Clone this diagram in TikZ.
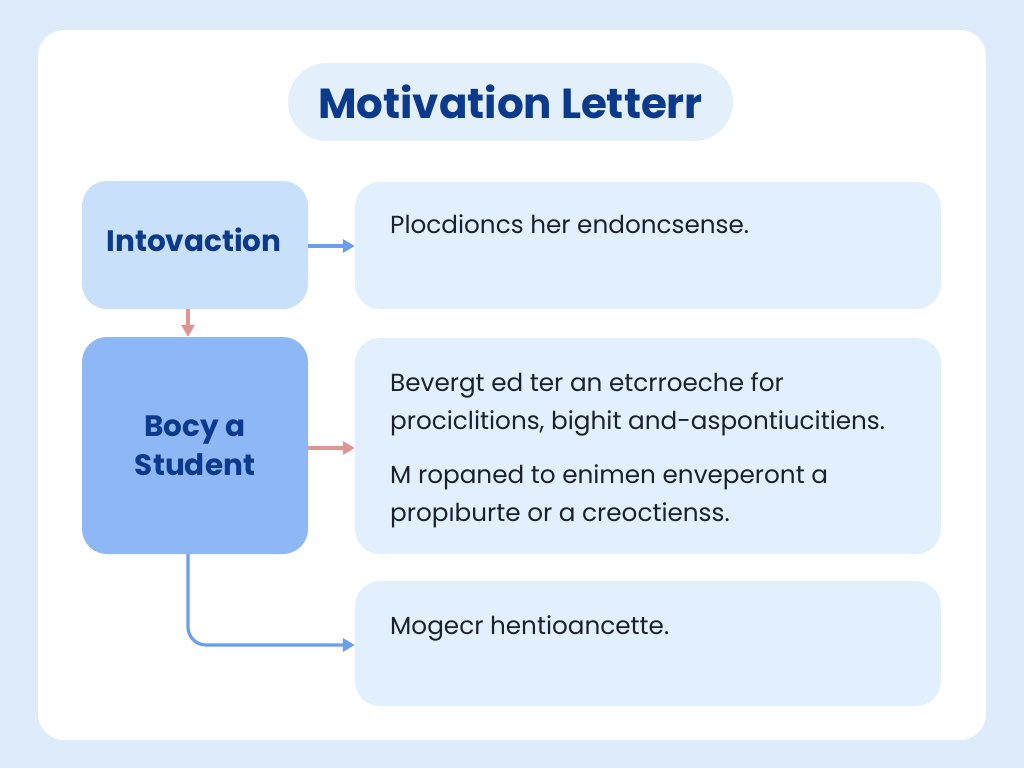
\documentclass[tikz,border=0pt]{standalone}
\usepackage{fontspec}
\setmainfont{Poppins}
\usepackage{xcolor}
\usetikzlibrary{arrows.meta, positioning}
\definecolor{pagebg}{HTML}{DDEBFB}
\definecolor{pillbg}{HTML}{E3F0FC}
\definecolor{titleblue}{HTML}{0B3A8C}
\definecolor{introfill}{HTML}{C9E0FB}
\definecolor{studentfill}{HTML}{8DB8F5}
\definecolor{notefill}{HTML}{E2F0FD}
\definecolor{bodytext}{HTML}{1A2030}
\definecolor{arrowblue}{HTML}{6A9FEB}
\definecolor{arrowpink}{HTML}{E09494}

\begin{document}
\begin{tikzpicture}[
        x=1pt, y=-1pt,
        % Define styles for the boxes
        stage_box/.style={rounded corners=25pt, minimum width=226pt, align=center,
            font=\bfseries\fontsize{29.5}{39}\selectfont, text=titleblue},
        note_box/.style={fill=notefill, rounded corners=25pt, minimum width=586pt},
        note_text/.style={anchor=north west, align=left, text=bodytext,
            font=\fontsize{24.7}{38}\selectfont, inner sep=0pt},
        flow_blue/.style={draw=arrowblue, line width=3.2pt, -{Triangle[length=12pt, width=13pt]}},
        flow_pink/.style={draw=arrowpink, line width=3.2pt, -{Triangle[length=12pt, width=13pt]}}
    ]
        % --- Background and white panel ---
        \fill[pagebg] (0,0) rectangle (1024,768);
        \useasboundingbox (0,0) rectangle (1024,768);
        \fill[white, rounded corners=26pt] (38,30) rectangle (986,740);

        % --- Title pill ---
        \node (title) [fill=pillbg, rounded corners=39pt, minimum width=445pt, minimum height=78pt,
            font=\bfseries\fontsize{42}{48}\selectfont, text=titleblue] at (510.5,102) {Motivation Letterr};

        % --- Left stage boxes ---
        \node (intro)   [stage_box, fill=introfill, minimum height=128pt] at (195,245) {};
        \node at (194,240) [font=\bfseries\fontsize{29.5}{39}\selectfont, text=titleblue] {Intovaction};
        \node (student) [stage_box, fill=studentfill, minimum height=217pt] at (195,445.5) {Bocy a\\Student};

        % --- Right note boxes ---
        \node (note_a) [note_box, minimum height=127pt] at (648,245.5) {};
        \node (note_b) [note_box, minimum height=216pt] at (648,446) {};
        \node (note_c) [note_box, minimum height=125pt] at (648,643.5) {};

        \node[note_text] at (390,215) {Plocdioncs her endoncsense.};
        \node[note_text] at (390,372) {Bevergt ed ter an etcrroeche for\\prociclitions, bighit and-aspontiucitiens.};
        \node[note_text] at (390,464) {M ropaned to enimen enveperont a\\propıburte or a creoctienss.};
        \node[note_text] at (390,615) {Mogecr hentioancette.};

        % --- Connectors ---
        \draw[flow_blue] (intro.east |- 0,246) -- (note_a.west |- 0,246);
        \draw[flow_pink] (intro.south -| 188,0) -- (student.north -| 188,0);
        \draw[flow_pink] (student.east |- 0,448) -- (note_b.west |- 0,448);
        \draw[flow_blue, rounded corners=18pt] (student.south -| 188,0) |- (note_c.west |- 0,645);
    \end{tikzpicture}
\end{document}
